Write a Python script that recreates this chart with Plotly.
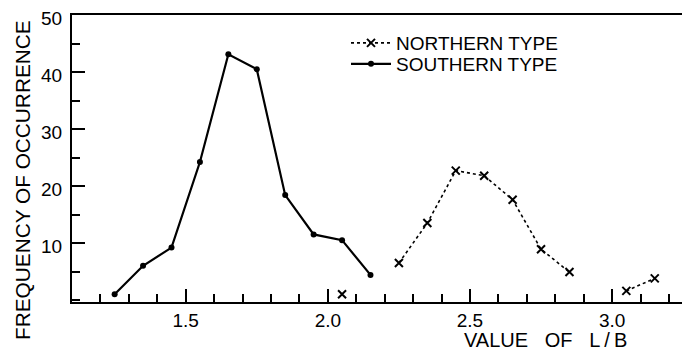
import plotly.graph_objects as go

# ---- data ----
south_x = [1.25, 1.35, 1.45, 1.55, 1.65, 1.75, 1.85, 1.95, 2.05, 2.15]
south_y = [1.0, 6.0, 9.2, 24.2, 43.1, 40.5, 18.4, 11.5, 10.5, 4.4]

north_x = [2.05, 2.15, 2.25, 2.35, 2.45, 2.55, 2.65, 2.75, 2.85, 2.95, 3.05, 3.15]
north_y = [1.0, None, 6.5, 13.5, 22.7, 21.8, 17.6, 8.9, 4.9, None, 1.6, 3.8]

x_ticks = [1.5, 2.0, 2.5, 3.0]
x_tick_labels = ["1.5", "2.0", "2.5", "3.0"]
y_ticks = [10, 20, 30, 40, 50]
y_tick_labels = ["10", "20", "30", "40", "50"]

FONT = "Liberation Sans, Arial, sans-serif"
# the page body adds an 8px offset; the figure is sized to fill the rest
OFF = 8
W, H = 690 - OFF, 353 - OFF
L, T, B = 72 - OFF, 15 - OFF, 51
PW, PH = W - L, H - T - B


def px(xr):
    return (xr - OFF - L) / PW


def py(yr):
    return 1 - (yr - OFF - T) / PH


fig = go.Figure()
fig.add_trace(go.Scatter(
    x=north_x, y=north_y, mode="lines+markers", name="NORTHERN TYPE",
    line=dict(color="black", width=1.6, dash="dot"),
    marker=dict(symbol="x-thin-open", size=8, color="black",
                line=dict(color="black", width=2)),
    connectgaps=False, legend="legend",
))
fig.add_trace(go.Scatter(
    x=south_x, y=south_y, mode="lines+markers", name="SOUTHERN TYPE",
    line=dict(color="black", width=2.2),
    marker=dict(symbol="circle", size=6, color="black"),
    legend="legend2",
))

leg_common = dict(xanchor="left", yanchor="middle", bgcolor="rgba(0,0,0,0)",
                  font=dict(size=19, family=FONT), itemwidth=40)

fig.update_layout(
    width=W, height=H,
    margin=dict(l=L, r=0, t=T, b=B, autoexpand=False),
    paper_bgcolor="white", plot_bgcolor="white",
    font=dict(family=FONT, color="black", size=19),
    showlegend=True,
    legend=dict(x=px(346), y=py(43), **leg_common),
    legend2=dict(x=px(346), y=py(64), **leg_common),
    xaxis=dict(
        range=[1.1, 3.274], showgrid=False, zeroline=False, automargin=False,
        showline=True, linecolor="black", linewidth=2, mirror=True,
        ticks="inside", ticklen=13, tickwidth=1.5, tickcolor="black",
        tickvals=x_ticks, ticktext=x_tick_labels, ticklabeloverflow="allow",
        tickfont=dict(size=19, family=FONT),
        minor=dict(dtick=0.1, tick0=1.1, ticks="inside", ticklen=8,
                   tickwidth=1.5, tickcolor="black", showgrid=False),
    ),
    yaxis=dict(
        range=[-0.35, 50], showgrid=False, zeroline=False, automargin=False,
        showline=True, linecolor="black", linewidth=2,
        ticks="inside", ticklen=13, tickwidth=1.5, tickcolor="black",
        tickvals=y_ticks, ticktext=y_tick_labels, ticklabeloverflow="allow",
        tickfont=dict(size=19, family=FONT), ticklabelstandoff=4,
        ticklabelshift=3,
        minor=dict(dtick=5, tick0=0, ticks="inside", ticklen=8,
                   tickwidth=1.5, tickcolor="black", showgrid=False),
    ),
    annotations=[
        dict(text="FREQUENCY OF OCCURRENCE", textangle=-90,
             xref="paper", yref="paper", x=px(22), y=py(180),
             xanchor="center", yanchor="middle", showarrow=False,
             font=dict(size=20.8, family=FONT)),
        dict(text="VALUE\u00a0\u00a0\u00a0OF\u00a0\u00a0\u00a0L\u2009/\u2009B",
             xref="paper", yref="paper", x=px(545), y=py(340),
             xanchor="center", yanchor="middle", showarrow=False,
             font=dict(size=20, family=FONT)),
    ],
)

fig.write_html("out.html")
